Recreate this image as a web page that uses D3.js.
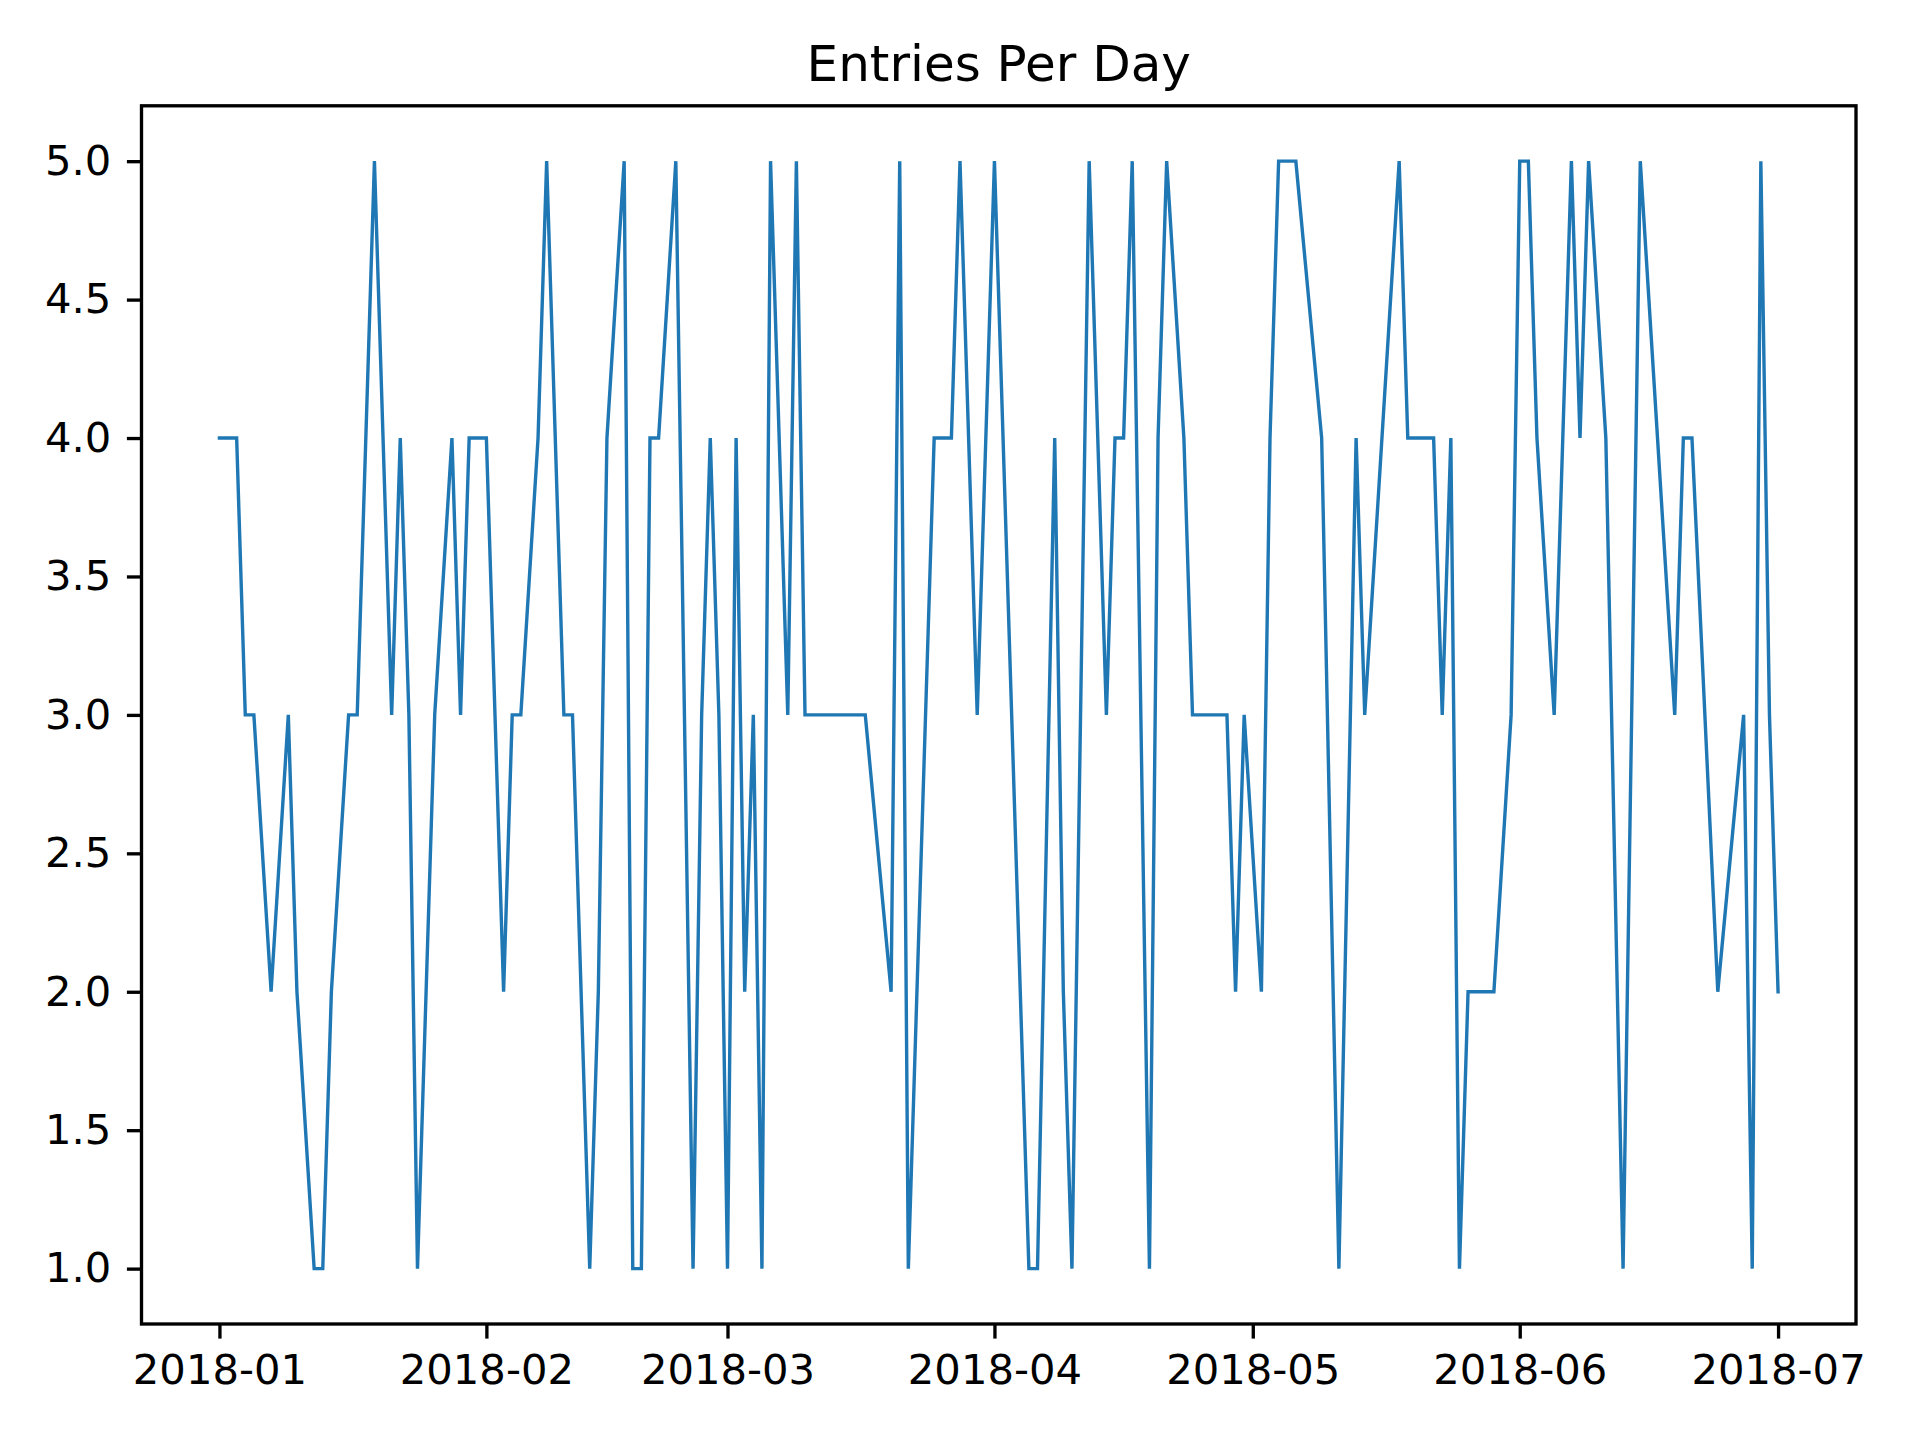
<!DOCTYPE html>
<html>
<head>
<meta charset="utf-8">
<script src="https://cdn.jsdelivr.net/npm/d3@7"></script>
<style>
  html, body { margin: 0; padding: 0; background: #ffffff; }
  svg { display: block; }
  text { font-family: "DejaVu Sans", sans-serif; fill: #000; }
</style>
</head>
<body>
<svg id="chart" width="1920" height="1440"></svg>
<script>
const title = "Entries Per Day";
const dates = [
  "2018-01-01","2018-01-03","2018-01-04","2018-01-05","2018-01-07","2018-01-09","2018-01-10","2018-01-12","2018-01-13","2018-01-14",
  "2018-01-16","2018-01-17","2018-01-19","2018-01-21","2018-01-22","2018-01-23","2018-01-24","2018-01-26","2018-01-28","2018-01-29",
  "2018-01-30","2018-02-01","2018-02-03","2018-02-04","2018-02-05","2018-02-07","2018-02-08","2018-02-10","2018-02-11","2018-02-13",
  "2018-02-14","2018-02-15","2018-02-17","2018-02-18","2018-02-19","2018-02-20","2018-02-21","2018-02-23","2018-02-25","2018-02-26",
  "2018-02-27","2018-02-28","2018-03-01","2018-03-02","2018-03-03","2018-03-04","2018-03-05","2018-03-06","2018-03-08","2018-03-09",
  "2018-03-10","2018-03-17","2018-03-20","2018-03-21","2018-03-22","2018-03-25","2018-03-27","2018-03-28","2018-03-30","2018-04-01",
  "2018-04-05","2018-04-06","2018-04-08","2018-04-09","2018-04-10","2018-04-12","2018-04-14","2018-04-15","2018-04-16","2018-04-17",
  "2018-04-19","2018-04-20","2018-04-21","2018-04-23","2018-04-24","2018-04-28","2018-04-29","2018-04-30","2018-05-02","2018-05-03",
  "2018-05-04","2018-05-06","2018-05-09","2018-05-11","2018-05-13","2018-05-14","2018-05-18","2018-05-19","2018-05-22","2018-05-23",
  "2018-05-24","2018-05-25","2018-05-26","2018-05-29","2018-05-31","2018-06-01","2018-06-02","2018-06-03","2018-06-05","2018-06-07",
  "2018-06-08","2018-06-09","2018-06-11","2018-06-13","2018-06-15","2018-06-19","2018-06-20","2018-06-21","2018-06-24","2018-06-27",
  "2018-06-28","2018-06-29","2018-06-30","2018-07-01"
];
const entries = [
  4,4,3,3,2,3,2,1,1,2,
  3,3,5,3,4,3,1,3,4,3,
  4,4,2,3,3,4,5,3,3,1,
  2,4,5,1,1,4,4,5,1,3,
  4,3,1,4,2,3,1,5,3,5,
  3,3,2,5,1,4,4,5,3,5,
  1,1,4,2,1,5,3,4,4,5,
  1,4,5,4,3,3,2,3,2,4,
  5,5,4,1,4,3,5,4,4,3,
  4,1,2,2,3,5,5,4,3,5,
  4,5,4,1,5,3,4,4,2,3,
  1,5,3,2
];
const yTicks = [1.0, 1.5, 2.0, 2.5, 3.0, 3.5, 4.0, 4.5, 5.0];
const xTickDates = ["2018-01-01","2018-02-01","2018-03-01","2018-04-01","2018-05-01","2018-06-01","2018-07-01"];

const parse = d3.utcParse("%Y-%m-%d");
const data = dates.map((d, i) => ({ date: parse(d), value: entries[i] }));

const M = { left: 141.5, right: 1856, top: 105.8, bottom: 1324 };
const svg = d3.select("#chart");

const t0 = parse(dates[0]).getTime(), t1 = parse(dates[dates.length - 1]).getTime();
const padT = (t1 - t0) * 0.05;
const x = d3.scaleUtc().domain([new Date(t0 - padT), new Date(t1 + padT)]).range([M.left, M.right]);
const y = d3.scaleLinear().domain([0.8, 5.2]).range([M.bottom, M.top]);

const tickLen = 14.6, tickW = 3.33, fontPx = 41.7;

// line
const line = d3.line().x(d => x(d.date)).y(d => y(d.value));
svg.append("path")
  .datum(data)
  .attr("d", line)
  .attr("fill", "none")
  .attr("stroke", "#1f77b4")
  .attr("stroke-width", 3.4)
  .attr("stroke-linejoin", "miter")
  .attr("stroke-linecap", "square");

// axes
const xAxis = d3.axisBottom(x)
  .tickValues(xTickDates.map(parse))
  .tickFormat(d3.utcFormat("%Y-%m"))
  .tickSize(tickLen).tickPadding(15.5);
const gx = svg.append("g").attr("transform", `translate(0,${M.bottom})`).call(xAxis);
gx.select(".domain").remove();
gx.selectAll(".tick line").attr("stroke", "#000").attr("stroke-width", tickW);
gx.selectAll(".tick text").attr("font-size", fontPx).attr("font-family", "DejaVu Sans").attr("fill", "#000");

const yAxis = d3.axisLeft(y)
  .tickValues(yTicks)
  .tickFormat(d3.format(".1f"))
  .tickSize(tickLen).tickPadding(15.5);
const gy = svg.append("g").attr("transform", `translate(${M.left},0)`).call(yAxis);
gy.select(".domain").remove();
gy.selectAll(".tick line").attr("stroke", "#000").attr("stroke-width", tickW);
gy.selectAll(".tick text").attr("font-size", fontPx).attr("font-family", "DejaVu Sans").attr("fill", "#000");

// frame (spines)
svg.append("rect")
  .attr("x", M.left).attr("y", M.top)
  .attr("width", M.right - M.left).attr("height", M.bottom - M.top)
  .attr("fill", "none").attr("stroke", "#000").attr("stroke-width", 3.33);

// title
svg.append("text")
  .attr("x", (M.left + M.right) / 2)
  .attr("y", M.top - 25)
  .attr("text-anchor", "middle")
  .attr("font-size", 50)
  .text(title);
</script>
</body>
</html>
